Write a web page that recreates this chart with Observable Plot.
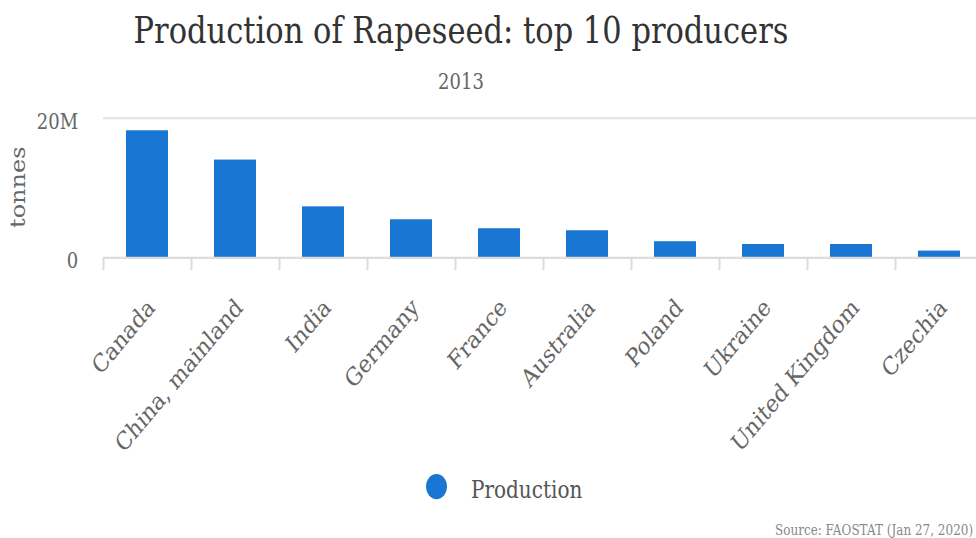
<!DOCTYPE html>
<html>
<head>
<meta charset="utf-8">
<script src="https://cdn.jsdelivr.net/npm/d3@7"></script>
<script src="https://cdn.jsdelivr.net/npm/@observablehq/plot@0.6"></script>
<style>
  html, body { margin: 0; padding: 0; background: #fff; overflow: hidden; }
  body { width: 976px; height: 538px; }
  #wrap { position: absolute; left: 0; top: 0; width: 990px; height: 448px; transform-origin: 0 0; transform: scaleY(1.2); font-family: "DejaVu Serif", serif; }
  #chart { position: absolute; left: 0; top: 0; }
  #chart svg { max-width: none !important; height: 448px !important; }
  .t { position: absolute; white-space: nowrap; line-height: 1; }
  #title { left: 0; width: 922px; top: 11px; text-align: center; font-size: 30.5px; color: #333; }
  #subtitle { left: 0; width: 922px; top: 59px; text-align: center; font-size: 18px; color: #666; }
  #ylabel { left: 18px; top: 156px; font-size: 20px; color: #666; transform: translate(-50%, -50%) rotate(-90deg); }
  #dot { position: absolute; left: 426px; top: 395.3px; width: 21px; height: 21px; border-radius: 50%; background: #1976d2; }
  #legendText { left: 471px; top: 398px; font-size: 20px; color: #555; }
  #source { left: 775px; top: 436px; font-size: 12px; color: #888; }
</style>
</head>
<body>
<div id="wrap">
  <div id="chart"></div>
  <div class="t" id="title">Production of Rapeseed: top 10 producers</div>
  <div class="t" id="subtitle">2013</div>
  <div class="t" id="ylabel">tonnes</div>
  <div id="dot"></div>
  <div class="t" id="legendText">Production</div>
  <div class="t" id="source">Source: FAOSTAT (Jan 27, 2020)</div>
</div>
<script>
const countries = ["Canada", "China, mainland", "India", "Germany", "France", "Australia", "Poland", "Ukraine", "United Kingdom", "Czechia"];
const production = [18200000, 14000000, 7300000, 5450000, 4160000, 3870000, 2300000, 1900000, 1900000, 960000];
const yTicks = [0, 20000000];
const yTickLabels = ["0", "20M"];

const data = countries.map((c, i) => ({country: c, value: production[i]}));

const W = 990, H = 448;
const mL = 102.7, mR = 7, mT = 98.1, mB = 448 - 214.4;
const step = (W - mL - mR) / countries.length;

const chart = Plot.plot({
  width: W,
  height: H,
  marginLeft: mL,
  marginRight: mR,
  marginTop: mT,
  marginBottom: mB,
  style: {fontFamily: '"DejaVu Serif", serif', background: "transparent", overflow: "visible"},
  x: {domain: countries, paddingInner: 0.52, paddingOuter: 0.26, axis: null},
  y: {domain: [0, 20000000], axis: null},
  marks: [
    Plot.ruleY([20000000], {stroke: "#e3e3e3", strokeWidth: 1.7}),
    Plot.barY(data, {x: "country", y: "value", fill: "#1976d2"}),
    Plot.ruleY([0], {stroke: "#dcdcdc", strokeWidth: 1.7}),
    Plot.ruleX(countries, {x: d => d, y1: 0, y2: -1850000, dx: -step / 2, stroke: "#dcdcdc", strokeWidth: 2}),
    Plot.text(yTicks, {frameAnchor: "left", y: d => d, text: (d, i) => yTickLabels[i], textAnchor: "end", dx: -25, dy: 3, fontSize: 18, fill: "#666"}),
    Plot.text(countries, {x: d => d, y: 0, text: d => d, rotate: -45, textAnchor: "end", dx: 4, dy: 38, fontSize: 20.5, fill: "#666"})
  ]
});
document.getElementById("chart").appendChild(chart);
</script>
</body>
</html>
